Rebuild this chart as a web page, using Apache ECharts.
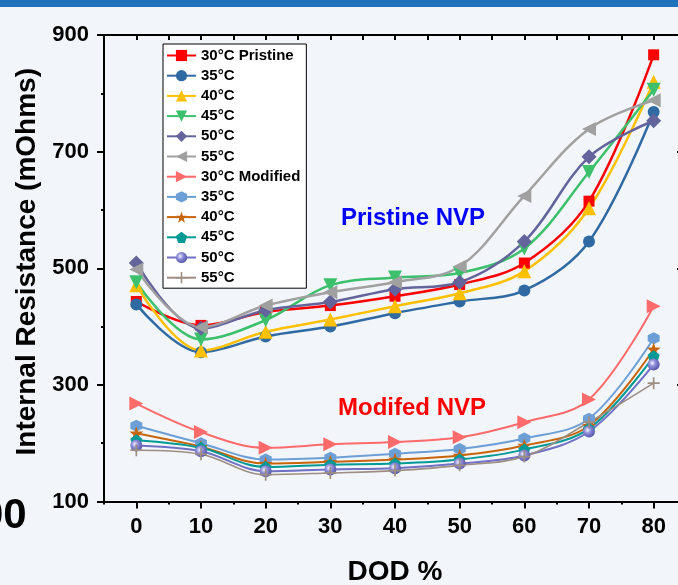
<!DOCTYPE html>
<html>
<head>
<meta charset="utf-8">
<script src="https://cdn.jsdelivr.net/npm/echarts@6/dist/echarts.min.js"></script>
<style>
  html, body { margin: 0; padding: 0; background: #f2f5fa; }
  #chart { width: 678px; height: 585px; }
</style>
</head>
<body>
<div id="chart"></div>
<script>
// DOD (%) and internal resistance (mOhms)
const DOD = [0, 10, 20, 30, 40, 50, 60, 70, 80];

const P30 = [443, 402, 425, 436, 452, 472, 509, 615, 866];
const P35 = [438, 356, 383, 400, 423, 443, 462, 546, 768];
const P40 = [471, 359, 391, 412, 435, 457, 495, 603, 820];
const P45 = [476, 378, 411, 471, 484, 492, 534, 665, 806];
const P50 = [509, 397, 428, 442, 464, 476, 546, 691, 753];
const P55 = [498, 399, 436, 459, 476, 503, 624, 739, 788];

const M30 = [268, 219, 192, 198, 202, 210, 236, 275, 435];
const M35 = [230, 200, 172, 175, 182, 190, 208, 242, 380];
const M40 = [217, 194, 165, 168, 172, 179, 196, 230, 361];
const M45 = [205, 192, 159, 163, 165, 172, 189, 225, 349];
const M50 = [196, 186, 152, 155, 157, 165, 179, 220, 335];
const M55 = [188, 181, 146, 149, 153, 162, 177, 236, 303];

const X_LABELS = [0, 10, 20, 30, 40, 50, 60, 70, 80];
const Y_LABELS = [100, 300, 500, 700, 900];

const FONT = "'Liberation Sans', Arial, sans-serif";

const SYM = {
  down: "path://M0,0L10,0L5,9Z",
  left: "path://M0,5L9,0L9,10Z",
  right: "path://M0,0L9,5L0,10Z",
  hex: "path://M5,0L9.33,2.5L9.33,7.5L5,10L0.67,7.5L0.67,2.5Z",
  star: "path://M5,0L6.18,3.38L9.76,3.45L6.9,5.62L7.94,9.05L5,7L2.06,9.05L3.1,5.62L0.24,3.45L3.82,3.38Z",
  penta: "path://M5,0L10,3.6L8.1,9.5L1.9,9.5L0,3.6Z",
  plus: "path://M4.3,0H5.7V4.3H10V5.7H5.7V10H4.3V5.7H0V4.3H4.3Z"
};

function pairs(arr) {
  return DOD.map((d, i) => [d, arr[i]]);
}

function line(name, arr, color, symbol, size, width, fill) {
  return {
    name: name,
    type: "line",
    xAxisIndex: 0,
    yAxisIndex: 0,
    data: pairs(arr),
    smooth: 0.35,
    symbol: symbol,
    symbolSize: size,
    showAllSymbol: true,
    lineStyle: { color: color, width: width },
    itemStyle: { color: fill || color, borderWidth: 0 },
    emphasis: { disabled: true },
    animation: false
  };
}

const sphere = {
  type: "radial", x: 0.38, y: 0.38, r: 0.62,
  colorStops: [
    { offset: 0, color: "#f4f4ff" },
    { offset: 0.45, color: "#8a8ad6" },
    { offset: 1, color: "#5a5aae" }
  ]
};

const series = [
  line("30°C Pristine", P30, "#ff0000", "rect", 11, 2.5),
  line("35°C", P35, "#2f6aa3", "circle", 12, 2.5),
  line("40°C", P40, "#ffc000", "triangle", 14, 2.5),
  line("45°C", P45, "#3cc06c", SYM.down, 14, 2.5),
  line("50°C", P50, "#64649c", "diamond", 15, 2.5),
  line("55°C", P55, "#a0a0a0", SYM.left, 14, 2.5),
  line("30°C Modified", M30, "#ff6b6b", SYM.right, 14, 2),
  line("35°C ", M35, "#6c9fd6", SYM.hex, 12, 2),
  line("40°C ", M40, "#c8650a", SYM.star, 14, 2),
  line("45°C ", M45, "#009a96", SYM.penta, 12, 2),
  line("50°C ", M50, "#7070c4", "circle", 12, 2, sphere),
  line("55°C ", M55, "#9e8e82", SYM.plus, 12, 1.6)
];

const chart = echarts.init(document.getElementById("chart"), null, { renderer: "canvas" });

const axisLine = { show: true, onZero: false, lineStyle: { color: "#000", width: 2 } };
const noLine = { show: false, onZero: false };
const labelStyle = { color: "#000", fontSize: 22, fontWeight: "bold", fontFamily: FONT };
// plot area runs past the right edge of the canvas, as in the source image
const GRID = { left: 104, top: 35, width: 582, height: 466.5, containLabel: false, outerBoundsMode: "none" };

chart.setOption({
  backgroundColor: "#f2f5fa",
  animation: false,
  grid: [Object.assign({}, GRID), Object.assign({}, GRID)],
  legend: {
    orient: "vertical",
    left: 163,
    top: 44,
    padding: [4, 6, 3, 3],
    itemGap: 5.2,
    itemWidth: 29,
    itemHeight: 14,
    backgroundColor: "#ffffff",
    borderColor: "#000",
    borderWidth: 1,
    borderRadius: 0,
    formatter: (n) => n.trim(),
    textStyle: { color: "#000", fontSize: 15, fontWeight: "bold", fontFamily: FONT, lineHeight: 14 },
    data: series.map((s) => s.name)
  },
  xAxis: [
    {
      gridIndex: 0, type: "value", position: "bottom",
      min: -5, max: 85, interval: 5,
      axisLine: axisLine,
      splitLine: { show: false },
      axisTick: { show: true, inside: false, length: 7, lineStyle: { width: 2, color: "#000" }, customValues: X_LABELS },
      axisLabel: Object.assign({ margin: 14, customValues: X_LABELS }, labelStyle),
      name: "DOD %",
      nameLocation: "middle",
      nameGap: 57,
      nameTextStyle: { color: "#000", fontSize: 28, fontWeight: "bold", fontFamily: FONT }
    },
    {
      gridIndex: 0, type: "value", position: "top",
      min: -5, max: 85, interval: 5,
      axisLine: axisLine,
      splitLine: { show: false },
      axisTick: { show: true, inside: true, length: 5, lineStyle: { width: 2, color: "#000" } },
      axisLabel: { show: false }
    },
    {
      gridIndex: 1, type: "value", position: "bottom",
      min: -5, max: 85, interval: 5,
      axisLine: noLine,
      splitLine: { show: false },
      axisTick: { show: true, inside: false, length: 3, lineStyle: { width: 2, color: "#000" } },
      axisLabel: { show: false }
    }
  ],
  yAxis: [
    {
      gridIndex: 0, type: "value", position: "left",
      min: 100, max: 900, interval: 100,
      axisLine: axisLine,
      splitLine: { show: false },
      axisTick: { show: true, inside: false, length: 7, lineStyle: { width: 2, color: "#000" }, customValues: Y_LABELS },
      axisLabel: Object.assign({ margin: 15, customValues: Y_LABELS }, labelStyle),
      name: "Internal Resistance (mOhms)",
      nameLocation: "middle",
      nameRotate: 90,
      nameGap: 60,
      nameTextStyle: { color: "#000", fontSize: 28, fontWeight: "bold", fontFamily: FONT, padding: [0, 0, 0, 13] }
    },
    {
      gridIndex: 0, type: "value", position: "right",
      min: 100, max: 900, interval: 100,
      axisLine: axisLine,
      splitLine: { show: false },
      axisTick: { show: true, inside: true, length: 9, lineStyle: { width: 2, color: "#000" }, customValues: Y_LABELS },
      axisLabel: { show: false }
    },
    {
      gridIndex: 1, type: "value", position: "left",
      min: 100, max: 900, interval: 100,
      axisLine: noLine,
      splitLine: { show: false },
      axisTick: { show: true, inside: false, length: 3, lineStyle: { width: 2, color: "#000" } },
      axisLabel: { show: false }
    }
  ],
  graphic: [
    { type: "rect", left: 0, top: 0, shape: { width: 678, height: 7 }, style: { fill: "#1f73bc" }, z: 100 },
    {
      type: "text", left: -20, top: 495,
      style: { text: "00", fill: "#000", font: "bold 42px " + FONT }
    },
    {
      type: "text", x: 413, y: 218,
      style: { text: "Pristine NVP", fill: "#0000ff", font: "bold 24px " + FONT, align: "center", verticalAlign: "middle" },
      z: 50
    },
    {
      type: "text", x: 412, y: 408,
      style: { text: "Modifed NVP", fill: "#ff0000", font: "bold 24px " + FONT, align: "center", verticalAlign: "middle" },
      z: 50
    }
  ],
  series: series
});
</script>
</body>
</html>
